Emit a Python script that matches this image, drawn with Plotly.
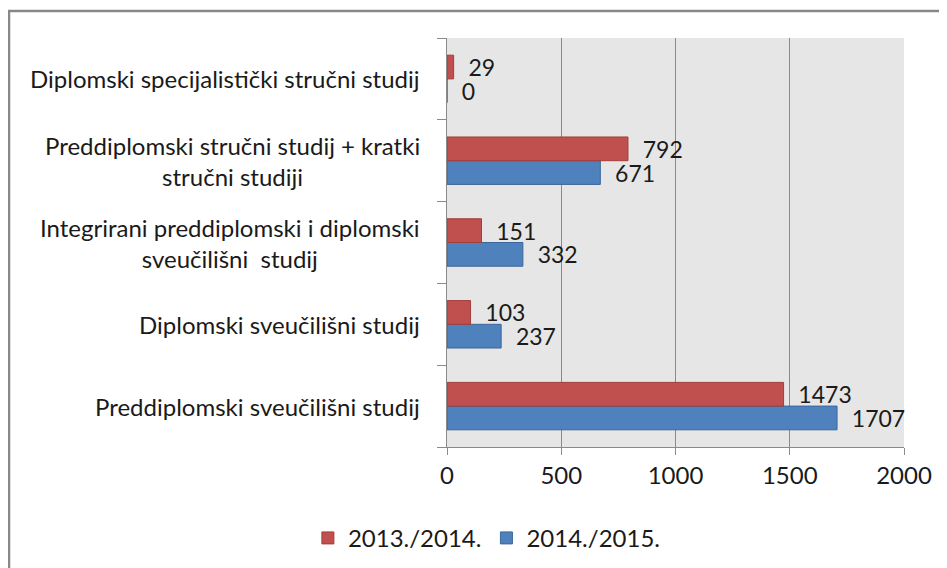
import plotly.graph_objects as go

categories = [
    "Preddiplomski sveučilišni studij",
    "Diplomski sveučilišni studij",
    "Integrirani preddiplomski i diplomski<br>sveučilišni  studij",
    "Preddiplomski stručni studij + kratki<br>stručni studiji",
    "Diplomski specijalistički stručni studij",
]
series_2013 = [1473, 103, 151, 792, 29]
series_2014 = [1707, 237, 332, 671, 0]
x_ticks = [0, 500, 1000, 1500, 2000]

FONT = "Lato"
FS = 24
RED = "#c0504d"
BLUE = "#4f81bd"
pad = "\u00a0\u00a0"

# figure is offset by the page's 8px body margin
W, H = 939, 560
L, R, T, B = 439, 43, 30, 121
PW, PH = W - L - R, H - T - B

fig = go.Figure()
fig.add_trace(go.Bar(
    y=categories, x=series_2014, orientation="h", name="2014./2015.",
    marker=dict(color=BLUE, line=dict(color="#3a679c", width=1)),
    text=[pad + str(v) for v in series_2014], textposition="outside",
    textfont=dict(family=FONT, size=FS - 1, color="#1a1a1a"),
    constraintext="none", cliponaxis=False, legendrank=2,
))
fig.add_trace(go.Bar(
    y=categories, x=series_2013, orientation="h", name="2013./2014.",
    marker=dict(color=RED, line=dict(color="#a23e3b", width=1)),
    text=[pad + str(v) for v in series_2013], textposition="outside",
    textfont=dict(family=FONT, size=FS - 1, color="#1a1a1a"),
    constraintext="none", cliponaxis=False, legendrank=1,
))

for c in categories:
    fig.add_annotation(
        x=-25 / PW, xref="paper", y=c, yref="y", text=c, showarrow=False,
        xanchor="right", yanchor="middle", align="center",
        font=dict(family=FONT, size=FS, color="#1a1a1a"),
    )

fig.update_layout(
    width=W, height=H,
    margin=dict(l=L, r=R, t=T, b=B),
    paper_bgcolor="white", plot_bgcolor="#e6e6e6",
    barmode="group", bargap=0.42, bargroupgap=0.0,
    font=dict(family=FONT, size=FS, color="#1a1a1a"),
    showlegend=True,
    legend=dict(orientation="h", xref="container", x=0.51, xanchor="center",
                yref="container", y=0.053, yanchor="middle",
                font=dict(family=FONT, size=FS), itemwidth=30,
                traceorder="normal"),
    xaxis=dict(range=[0, 2000], tickvals=x_ticks, showgrid=True,
               gridcolor="#8a8a8a", gridwidth=1, showline=True,
               linecolor="#8a8a8a", linewidth=1, ticks="outside", ticklen=7,
               tickcolor="#8a8a8a", zeroline=False,
               tickfont=dict(family=FONT, size=FS, color="#1a1a1a")),
    yaxis=dict(categoryorder="array", categoryarray=categories,
               showticklabels=False, showline=True, linecolor="#8a8a8a",
               linewidth=1, ticks="outside", ticklen=9, tickson="boundaries",
               tickcolor="#8a8a8a", showgrid=False),
    shapes=[dict(type="rect", xref="paper", yref="paper",
                 x0=(1 - L) / PW, x1=1.3, y0=-0.6, y1=1 + (T - 3) / PH,
                 line=dict(color="#888888", width=2.5), layer="below")],
)

fig.write_html("out.html")
